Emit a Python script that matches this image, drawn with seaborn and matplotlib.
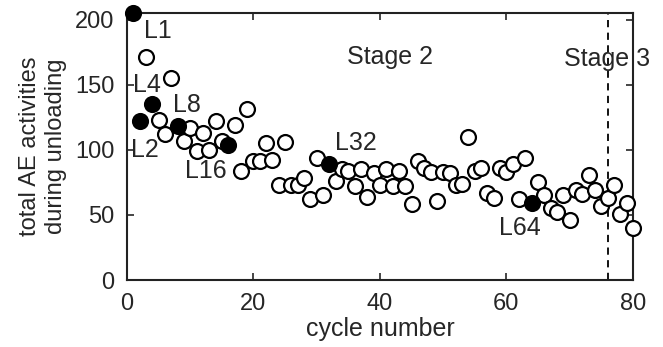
import matplotlib
matplotlib.use("Agg")
import matplotlib.pyplot as plt
import seaborn as sns
import pandas as pd

cycles = list(range(1, 81))
activity = [205, 122, 171, 135, 123, 112, 155, 118, 107, 117,
            99, 113, 100, 122, 107, 104, 119, 84, 131, 91,
            91, 105, 92, 73, 106, 73, 73, 78, 62, 94,
            65, 89, 76, 85, 84, 72, 85, 64, 82, 73,
            85, 72, 84, 72, 58, 91, 86, 83, 61, 83,
            82, 73, 74, 110, 84, 86, 67, 63, 86, 83,
            89, 62, 94, 59, 75, 65, 55, 52, 65, 46,
            69, 66, 81, 69, 57, 63, 73, 51, 59, 40]
labeled_cycles = [1, 2, 4, 8, 16, 32, 64]
label_names = ["L1", "L2", "L4", "L8", "L16", "L32", "L64"]
label_x = [4.9, 2.9, 3.2, 9.4, 12.5, 36.2, 62.2]
label_y = [191, 100, 150, 134, 84, 105, 40]
stage_names = ["Stage 2", "Stage 3"]
stage_x = [41.6, 75.9]
stage_y = [171, 170]
stage3_start = 76
x_ticks = [0, 20, 40, 60, 80]
y_ticks = [0, 50, 100, 150, 200]

df = pd.DataFrame({"cycle": cycles, "activity": activity})
df["filled"] = df["cycle"].isin(labeled_cycles)

sns.set_style("ticks")
plt.rcParams["font.family"] = ["Liberation Sans", "DejaVu Sans"]

TXT = "#262626"
fig = plt.figure(figsize=(6.63, 3.47), dpi=100)
ax = fig.add_axes([0.1916, 0.193, 0.763, 0.7695])

open_df = df[~df["filled"]]
fill_df = df[df["filled"]]
sns.scatterplot(data=open_df, x="cycle", y="activity", ax=ax, s=115,
                facecolor="white", edgecolor="black", linewidth=1.6,
                zorder=3, clip_on=False, legend=False)
sns.scatterplot(data=fill_df, x="cycle", y="activity", ax=ax, s=115,
                color="black", edgecolor="black", linewidth=1.6,
                zorder=4, clip_on=False, legend=False)

ax.axvline(stage3_start, color="black", linestyle=(0, (4, 3)), linewidth=1.3, zorder=2)

for name, tx, ty in zip(label_names, label_x, label_y):
    ax.text(tx, ty, name, fontsize=18, ha="center", va="center", color=TXT, zorder=5)
for name, tx, ty in zip(stage_names, stage_x, stage_y):
    ax.text(tx, ty, name, fontsize=18, ha="center", va="center", color=TXT, zorder=5)

ax.set_xlim(0, 80)
ax.set_ylim(0, 205)
ax.set_xticks(x_ticks)
ax.set_yticks(y_ticks)
ax.tick_params(direction="in", length=5, width=1.2, top=True, right=True,
               labelsize=17, colors=TXT)
ax.tick_params(axis="x", pad=9)
ax.tick_params(axis="y", pad=9)
for sp in ax.spines.values():
    sp.set_linewidth(1.5)
    sp.set_color("#222222")
ax.set_xlabel("cycle number", fontsize=18, color=TXT, labelpad=2)
ax.set_ylabel("total AE activities\nduring unloading", fontsize=17, color=TXT,
              linespacing=1.25, labelpad=6)

fig.savefig("out.png", dpi=100)
